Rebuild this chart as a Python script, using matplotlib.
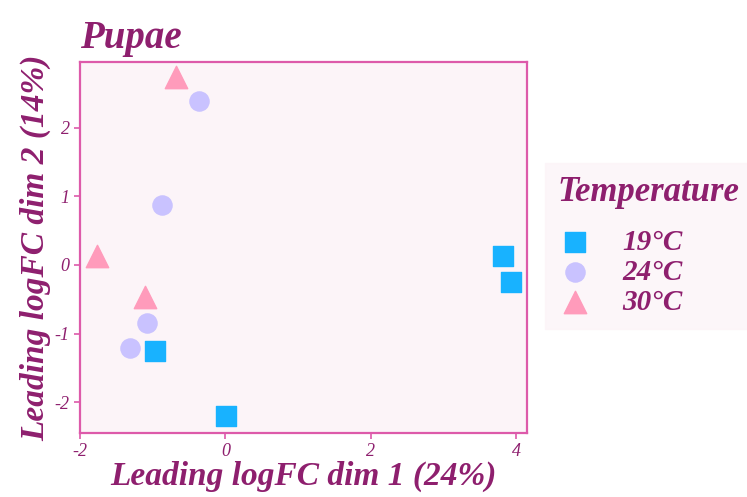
import matplotlib
matplotlib.use("Agg")
import matplotlib.pyplot as plt

# MDS coordinates per temperature group
dim1_19 = [3.82, 3.92, -0.97, 0.01]
dim2_19 = [0.13, -0.25, -1.26, -2.21]
dim1_24 = [-0.37, -0.87, -1.08, -1.31]
dim2_24 = [2.39, 0.88, -0.85, -1.21]
dim1_30 = [-0.68, -1.76, -1.10]
dim2_30 = [2.74, 0.13, -0.47]

labels = ["19°C", "24°C", "30°C"]
xticks = [-2, 0, 2, 4]
yticks = [-2, -1, 0, 1, 2]

text_col = "#8e1f6e"
edge_col = "#dd5aaa"
panel_bg = "#fcf4f8"

plt.rcParams["font.family"] = ["Liberation Serif", "DejaVu Serif"]
plt.rcParams["font.style"] = "italic"

fig = plt.figure(figsize=(7.47, 4.97), dpi=100)
ax = fig.add_axes([0.107, 0.129, 0.599, 0.746])
ax.set_facecolor(panel_bg)

ax.scatter(dim1_19, dim2_19, marker="s", s=190, color="#18b2ff", label=labels[0], zorder=3)
ax.scatter(dim1_24, dim2_24, marker="o", s=190, color="#c9c2ff", label=labels[1], zorder=3)
ax.scatter(dim1_30, dim2_30, marker="^", s=260, color="#ff9bbb", label=labels[2], zorder=3)

ax.set_xlim(-1.98, 4.15)
ax.set_ylim(-2.45, 2.96)
ax.set_xticks(xticks)
ax.set_yticks(yticks)
ax.set_xticklabels([str(t) if t >= 0 else "-" + str(-t) for t in xticks])
ax.set_yticklabels([str(t) if t >= 0 else "-" + str(-t) for t in yticks])

for sp in ax.spines.values():
    sp.set_color(edge_col)
    sp.set_linewidth(1.6)
ax.tick_params(colors=edge_col, labelcolor=text_col, labelsize=13, length=4, width=1.2)

ax.set_xlabel("Leading logFC dim 1 (24%)", fontsize=24, fontweight="bold",
              color=text_col, labelpad=0)
ax.set_ylabel("Leading logFC dim 2 (14%)", fontsize=24, fontweight="bold",
              color=text_col, labelpad=2)
ax.set_title("Pupae", fontsize=28, fontweight="bold", color=text_col,
             loc="left", pad=10, x=0.0)

leg = ax.legend(title="Temperature", loc="upper left", bbox_to_anchor=(0.741, 0.654),
                bbox_transform=fig.transFigure, frameon=True,
                prop={"size": 21, "weight": "bold"},
                title_fontproperties={"size": 25, "weight": "bold"},
                labelspacing=0.1, handlelength=1.2, handletextpad=1.0,
                borderpad=0.15, borderaxespad=0, markerscale=1.0)
leg.get_frame().set_facecolor(panel_bg)
leg.get_frame().set_edgecolor(panel_bg)
leg.get_frame().set_boxstyle("square")
leg.get_title().set_color(text_col)
leg._legend_box.align = "left"
leg._legend_box.sep = 14
for t in leg.get_texts():
    t.set_color(text_col)

fig.savefig("out.png", dpi=100)
